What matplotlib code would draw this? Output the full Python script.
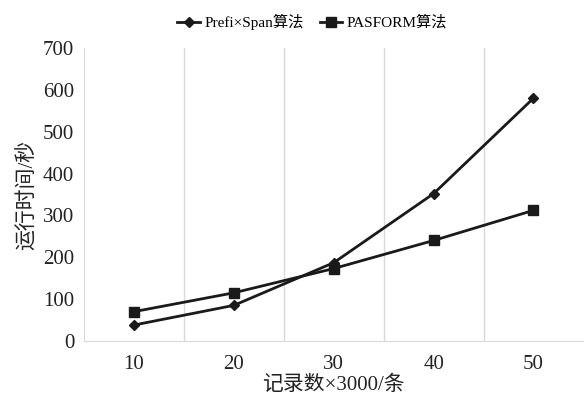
import matplotlib.pyplot as plt

# data
records = [10, 20, 30, 40, 50]
prefixspan = [38, 85, 187, 352, 580]
pasform = [70, 115, 173, 240, 312]
y_ticks = [0, 100, 200, 300, 400, 500, 600, 700]

plt.rcParams['font.family'] = ['Liberation Serif', 'Noto Sans CJK SC']

fig = plt.figure(figsize=(5.84, 4.03), dpi=100)
ax = fig.add_axes([0.144, 0.154, 0.855, 0.727])

ax.plot(records, prefixspan, color='#1a1a1a', lw=2, marker='D', ms=5,
        label='Prefi×Span算法')
ax.plot(records, pasform, color='#1a1a1a', lw=2, marker='s', ms=7,
        label='PASFORM算法')

ax.set_xlim(5, 55)
ax.set_ylim(0, 700)
ax.set_xticks(records)
ax.set_yticks(y_ticks)
ax.set_xticks([15, 25, 35, 45], minor=True)
ax.grid(axis='x', which='minor', color='#d9d9d9', lw=1)
ax.tick_params(axis='both', which='both', length=0, labelsize=15, colors='#222222')
ax.tick_params(axis='x', pad=10)
ax.tick_params(axis='y', pad=7)

for side in ['top', 'right']:
    ax.spines[side].set_visible(False)
for side in ['left', 'bottom']:
    ax.spines[side].set_color('#d9d9d9')

ax.set_xlabel('记录数×3000/条', fontsize=15, color='#222222', labelpad=1)
ax.set_ylabel('运行时间/秒', fontsize=15, color='#222222', labelpad=4)

fig.legend(loc='upper center', bbox_to_anchor=(0.535, 1.0), ncol=2, frameon=False,
           fontsize=11, handlelength=1.5, handletextpad=0.3, columnspacing=1.0)

fig.savefig('out.png', dpi=100)
